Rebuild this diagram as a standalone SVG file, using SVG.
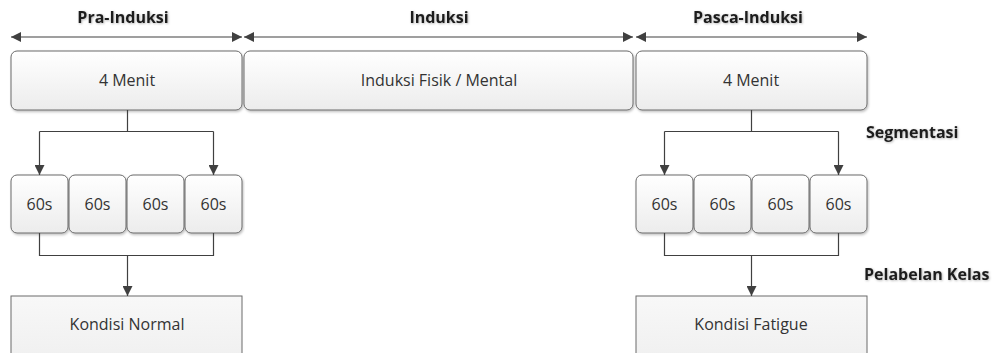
<svg xmlns="http://www.w3.org/2000/svg" width="992" height="353" viewBox="0 0 992 353">
  <defs>
    <linearGradient id="boxFill" x1="0" y1="0" x2="0" y2="1">
      <stop offset="0" stop-color="#ffffff"/>
      <stop offset="1" stop-color="#ececec"/>
    </linearGradient>
    <linearGradient id="plainFill" x1="0" y1="0" x2="0" y2="1">
      <stop offset="0" stop-color="#f8f8f8"/>
      <stop offset="1" stop-color="#efefef"/>
    </linearGradient>
    <filter id="shadow" x="-5%" y="-5%" width="110%" height="115%">
      <feDropShadow dx="1" dy="1.5" stdDeviation="1" flood-color="#000" flood-opacity="0.25"/>
    </filter>
    <filter id="textShadow" x="-5%" y="-20%" width="110%" height="150%">
      <feDropShadow dx="0.8" dy="0.8" stdDeviation="0.8" flood-color="#000" flood-opacity="0.3"/>
    </filter>
    <marker id="arrow" viewBox="0 0 10 10" refX="10" refY="5" markerWidth="10" markerHeight="10" markerUnits="userSpaceOnUse" orient="auto-start-reverse">
      <path d="M0,0 L10,5 L0,10 z" fill="#404040"/>
    </marker>
  </defs>
  <style>
    .box { fill: url(#boxFill); stroke: #6b6b6b; stroke-width: 1; filter: url(#shadow); }
    .plain { fill: url(#plainFill); stroke: #6b6b6b; stroke-width: 1; }
    .txt { font-family: "Open Sans", Lato, "Liberation Sans", sans-serif; font-size: 16px; fill: #333333; text-anchor: middle; }
    .head { font-family: "Open Sans", Lato, "Liberation Sans", sans-serif; font-size: 16px; font-weight: bold; fill: #1e1e1e; text-anchor: middle; filter: url(#textShadow); }
    .side { font-family: "Open Sans", Lato, "Liberation Sans", sans-serif; font-size: 16px; font-weight: bold; fill: #1e1e1e; text-anchor: start; filter: url(#textShadow); }
    .line { fill: none; stroke: #404040; stroke-width: 1.2; }
  </style>

  <!-- phase headings -->
  <g id="phase-labels">
    <text class="head" x="123" y="23">Pra-Induksi</text>
    <text class="head" x="439" y="23">Induksi</text>
    <text class="head" x="748" y="23">Pasca-Induksi</text>
    <text class="side" x="866" y="138">Segmentasi</text>
    <text class="side" x="864" y="280">Pelabelan Kelas</text>
  </g>

  <!-- duration blocks -->
  <g id="pra-block">
    <rect class="box" x="11" y="51" width="231" height="59" rx="6"/>
    <text class="txt" x="127" y="86">4 Menit</text>
  </g>
  <g id="induksi-block">
    <rect class="box" x="244" y="51" width="389" height="59" rx="6"/>
    <text class="txt" x="439" y="86">Induksi Fisik / Mental</text>
  </g>
  <g id="pasca-block">
    <rect class="box" x="636" y="51" width="231" height="59" rx="6"/>
    <text class="txt" x="751" y="86">4 Menit</text>
  </g>

  <!-- 60-second segments, pre-induction -->
  <g id="pra-seg1"><rect class="box" x="11" y="175" width="57" height="58" rx="6"/><text class="txt" x="39.5" y="210">60s</text></g>
  <g id="pra-seg2"><rect class="box" x="69" y="175" width="57" height="58" rx="6"/><text class="txt" x="97.5" y="210">60s</text></g>
  <g id="pra-seg3"><rect class="box" x="127" y="175" width="57" height="58" rx="6"/><text class="txt" x="155.5" y="210">60s</text></g>
  <g id="pra-seg4"><rect class="box" x="185" y="175" width="57" height="58" rx="6"/><text class="txt" x="213.5" y="210">60s</text></g>

  <!-- 60-second segments, post-induction -->
  <g id="pasca-seg1"><rect class="box" x="636" y="175" width="57" height="58" rx="6"/><text class="txt" x="664.5" y="210">60s</text></g>
  <g id="pasca-seg2"><rect class="box" x="694" y="175" width="57" height="58" rx="6"/><text class="txt" x="722.5" y="210">60s</text></g>
  <g id="pasca-seg3"><rect class="box" x="752" y="175" width="57" height="58" rx="6"/><text class="txt" x="780.5" y="210">60s</text></g>
  <g id="pasca-seg4"><rect class="box" x="810" y="175" width="57" height="58" rx="6"/><text class="txt" x="838.5" y="210">60s</text></g>

  <!-- class labels -->
  <g id="kondisi-normal">
    <rect class="plain" x="11" y="296" width="231" height="70"/>
    <text class="txt" x="127" y="330">Kondisi Normal</text>
  </g>
  <g id="kondisi-fatigue">
    <rect class="plain" x="636" y="296" width="231" height="70"/>
    <text class="txt" x="751" y="330">Kondisi Fatigue</text>
  </g>

  <!-- connectors -->
  <g id="connectors">
    <!-- phase span arrows -->
    <line class="line" x1="11" y1="37" x2="242" y2="37" marker-start="url(#arrow)" marker-end="url(#arrow)"/>
    <line class="line" x1="244" y1="37" x2="633" y2="37" marker-start="url(#arrow)" marker-end="url(#arrow)"/>
    <line class="line" x1="636" y1="37" x2="867" y2="37" marker-start="url(#arrow)" marker-end="url(#arrow)"/>

    <!-- segmentation, left -->
    <path class="line" d="M127.5,110 V131.5 M39.5,131.5 H213.5"/>
    <line class="line" x1="39.5" y1="131.5" x2="39.5" y2="175" marker-end="url(#arrow)"/>
    <line class="line" x1="213.5" y1="131.5" x2="213.5" y2="175" marker-end="url(#arrow)"/>
    <!-- labelling, left -->
    <path class="line" d="M39.5,233 V255.5 H213.5 V233"/>
    <line class="line" x1="127.5" y1="255.5" x2="127.5" y2="296" marker-end="url(#arrow)"/>

    <!-- segmentation, right -->
    <path class="line" d="M751.5,110 V131.5 M664.5,131.5 H838.5"/>
    <line class="line" x1="664.5" y1="131.5" x2="664.5" y2="175" marker-end="url(#arrow)"/>
    <line class="line" x1="838.5" y1="131.5" x2="838.5" y2="175" marker-end="url(#arrow)"/>
    <!-- labelling, right -->
    <path class="line" d="M664.5,233 V255.5 H838.5 V233"/>
    <line class="line" x1="751.5" y1="255.5" x2="751.5" y2="296" marker-end="url(#arrow)"/>
  </g>
</svg>
